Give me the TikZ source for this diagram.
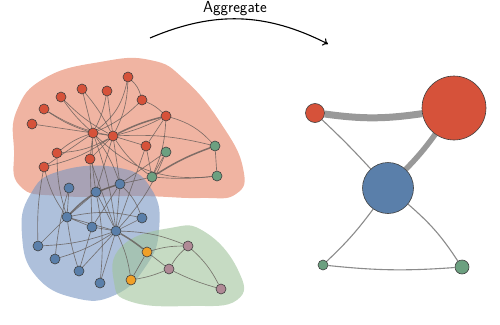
\documentclass[tikz,border=0pt]{standalone}
\usetikzlibrary{arrows.meta}
\definecolor{redv}{RGB}{214,82,58}
\definecolor{bluev}{RGB}{90,127,170}
\definecolor{greenv}{RGB}{108,160,128}
\definecolor{orangev}{RGB}{240,160,40}
\definecolor{mauvev}{RGB}{176,138,150}
\definecolor{edgec}{RGB}{100,92,88}
\definecolor{hullr}{RGB}{230,130,100}
\definecolor{hullb}{RGB}{120,150,195}
\definecolor{hullg}{RGB}{160,195,155}
\pgfdeclarelayer{hull}
\pgfdeclarelayer{links}
\pgfsetlayers{hull,links,main}
\tikzset{
  vtx/.style={circle,draw=black!75,line width=.6pt,inner sep=0pt,minimum size=10pt},
  rv/.style={vtx,fill=redv},
  bv/.style={vtx,fill=bluev},
  gv/.style={vtx,fill=greenv},
  ov/.style={vtx,fill=orangev},
  mv/.style={vtx,fill=mauvev},
  lnk/.style={draw=edgec,draw opacity=.8,line width=.65pt},
  hlnk/.style={lnk,line width=1.5pt},
  agg/.style={draw=black!30!gray!70,line width=1.1pt},
  hull/.style={fill opacity=.6,draw=none}
}

\begin{document}
\begin{tikzpicture}[x=1pt,y=-1pt]
\useasboundingbox (0,0) rectangle (500,324);
% left graph: vertices
\node[rv] (r1) at (128,77) {};
\node[rv] (r2) at (82,89) {};
\node[rv] (r3) at (107,91) {};
\node[rv] (r4) at (61,97) {};
\node[rv] (r5) at (142,100) {};
\node[rv] (r6) at (44,109) {};
\node[rv] (r7) at (166,116) {};
\node[rv] (r8) at (32,124) {};
\node[rv] (ra) at (93,133) {};
\node[rv] (rb) at (113,136) {};
\node[rv] (r11) at (146,146) {};
\node[rv] (r12) at (57,153) {};
\node[rv] (r13) at (90,159) {};
\node[rv] (r14) at (44,167) {};
\node[gv] (g1) at (166,152) {};
\node[gv] (g2) at (215,146) {};
\node[gv] (g3) at (152,177) {};
\node[gv] (g4) at (217,176) {};
\node[bv] (b1) at (69,188) {};
\node[bv] (b2) at (96,192) {};
\node[bv] (b3) at (120,184) {};
\node[bv] (b4) at (67,217) {};
\node[bv] (b5) at (142,218) {};
\node[bv] (b6) at (92,227) {};
\node[bv] (b7) at (116,231) {};
\node[bv] (b8) at (38,246) {};
\node[bv] (b9) at (55,259) {};
\node[bv] (b10) at (79,271) {};
\node[bv] (b11) at (100,283) {};
\node[ov] (o1) at (147,252) {};
\node[ov] (o2) at (131,280) {};
\node[mv] (m1) at (188,246) {};
\node[mv] (m2) at (169,269) {};
\node[mv] (m3) at (221,289) {};
% hulls
\begin{pgfonlayer}{hull}
\fill[hull,hullr] plot[smooth cycle,tension=.8] coordinates {(17,110) (45,78) (100,62) (150,60) (185,80) (222,125) (243,168) (236,194) (200,198) (140,196) (60,196) (20,186) (14,150)};
\fill[hull,hullb] plot[smooth cycle,tension=.8] coordinates {(30,195) (60,171) (120,168) (152,190) (159,230) (146,266) (115,295) (75,298) (36,276) (22,235)};
\fill[hull,hullg] plot[smooth cycle,tension=.8] coordinates {(122,246) (170,228) (205,232) (238,270) (237,300) (190,306) (132,302) (114,282)};
\end{pgfonlayer}
% left graph: links
\begin{pgfonlayer}{links}
\draw[lnk] (ra)--(r8) (ra) to[bend left=8] (r6) (ra) to[bend left=6] (r4) (ra)--(r2) (ra) to[bend right=8] (r3);
\draw[lnk] (ra) to[bend right=10] (r12) (ra)--(r14) (ra)--(r13) (ra)--(rb) (ra) to[bend right=10] (r5) (ra) to[bend right=20] (r1);
\draw[lnk] (rb) to[bend left=10] (r6) (rb) to[bend left=8] (r4) (rb) to[bend right=6] (r2) (rb)--(r3) (rb) to[bend right=12] (r1);
\draw[hlnk] (rb) to[bend left=6] (r7);
\draw[lnk] (rb) to[bend right=6] (r7) (rb)--(r11) (rb) to[bend left=12] (r12) (rb) to[bend left=10] (r14) (rb)--(r13);
\draw[lnk] (rb) to[bend right=10] (g3) (rb) to[bend left=8] (g2) (ra) to[bend right=25] (g4);
\draw[lnk] (r1) to[bend left=15] (r5) (r5) to[bend left=10] (r7) (r7) to[bend left=15] (g2) (r7)--(r11) (r7) to[bend left=10] (g3);
\draw[lnk] (r11)--(g3) (g1)--(g3) (g2)--(g4) (g3) to[bend right=5] (g4);
\draw[hlnk] (g3) to[bend left=6] (g2);
% red to blue
\draw[lnk] (r14) to[bend right=10] (b4) (r12) to[bend right=8] (b4) (ra) to[bend right=6] (b2) (ra) to[bend left=8] (b3) (rb)--(b2) (rb)--(b3);
\draw[lnk] (r13)--(b7) (r13)--(b6) (ra) to[bend left=6] (b7) (r11)--(b7) (g1)--(b3) (g3)--(b3) (g1) to[bend left=10] (b7) (r14) to[bend right=6] (b8);
% blue
\draw[hlnk] (b4) to[bend left=15] (b3);
\draw[lnk] (b4)--(b1) (b4)--(b2) (b4) to[bend left=12] (b5) (b4)--(b6) (b4)--(b7) (b4)--(b8) (b4) to[bend right=5] (b10) (b1) to[bend right=5] (b9);
\draw[lnk] (b7)--(b2) (b7)--(b3) (b7)--(b5) (b7)--(b6) (b7) to[bend left=8] (b8) (b7) to[bend left=8] (b9) (b7)--(b10) (b7)--(b11);
\draw[lnk] (b3) to[bend left=12] (b5) (b3)--(b2) (b3)--(b6) (b6)--(b10) (b2) to[bend left=8] (b11);
% blue to orange and mauve
\draw[hlnk] (b7) to[bend left=4] (o1);
\draw[lnk] (b7) to[bend left=8] (o2) (b7) to[bend left=10] (m1);
\draw[lnk] (o1)--(o2) (o1) to[bend left=8] (m1) (o1)--(m2) (o2) to[bend right=6] (m2) (m1) to[bend right=8] (m2) (m1) to[bend left=10] (m3) (m2) to[bend right=5] (m3);
\end{pgfonlayer}
% arrow
\coordinate (a0) at (150,38);
\coordinate (a1) at (328,44);
\draw[line width=1.1pt,-{To[length=5pt,width=8pt]}] (a0) to[bend left=25] (a1);
\node[font=\fontsize{16}{18}\sffamily] (lbl) at (235,9) {Aggregate};
% aggregated graph
\node[circle,draw=black!75,line width=.6pt,inner sep=0pt,minimum size=19pt,fill=redv] (cr) at (315,113) {};
\node[circle,draw=black!75,line width=.6pt,inner sep=0pt,minimum size=64pt,fill=redv] (cR) at (454,108) {};
\node[circle,draw=black!75,line width=.6pt,inner sep=0pt,minimum size=51pt,fill=bluev] (cB) at (388,188) {};
\node[circle,draw=black!75,line width=.6pt,inner sep=0pt,minimum size=10pt,fill=greenv] (cg) at (323,265) {};
\node[circle,draw=black!75,line width=.6pt,inner sep=0pt,minimum size=14pt,fill=greenv] (cG) at (462,267) {};
\begin{pgfonlayer}{links}
\draw[agg,line width=7pt,draw=gray!80] (cr) to[bend right=8] (cR);
\draw[agg,line width=5.5pt,draw=gray!80] (cR) to[bend left=4] (cB);
\draw[agg] (cr) to[bend left=2] (cB) (cB) to[bend left=5] (cg) (cB) to[bend left=8] (cG) (cg) to[bend right=5] (cG);
\end{pgfonlayer}
\end{tikzpicture}
\end{document}
